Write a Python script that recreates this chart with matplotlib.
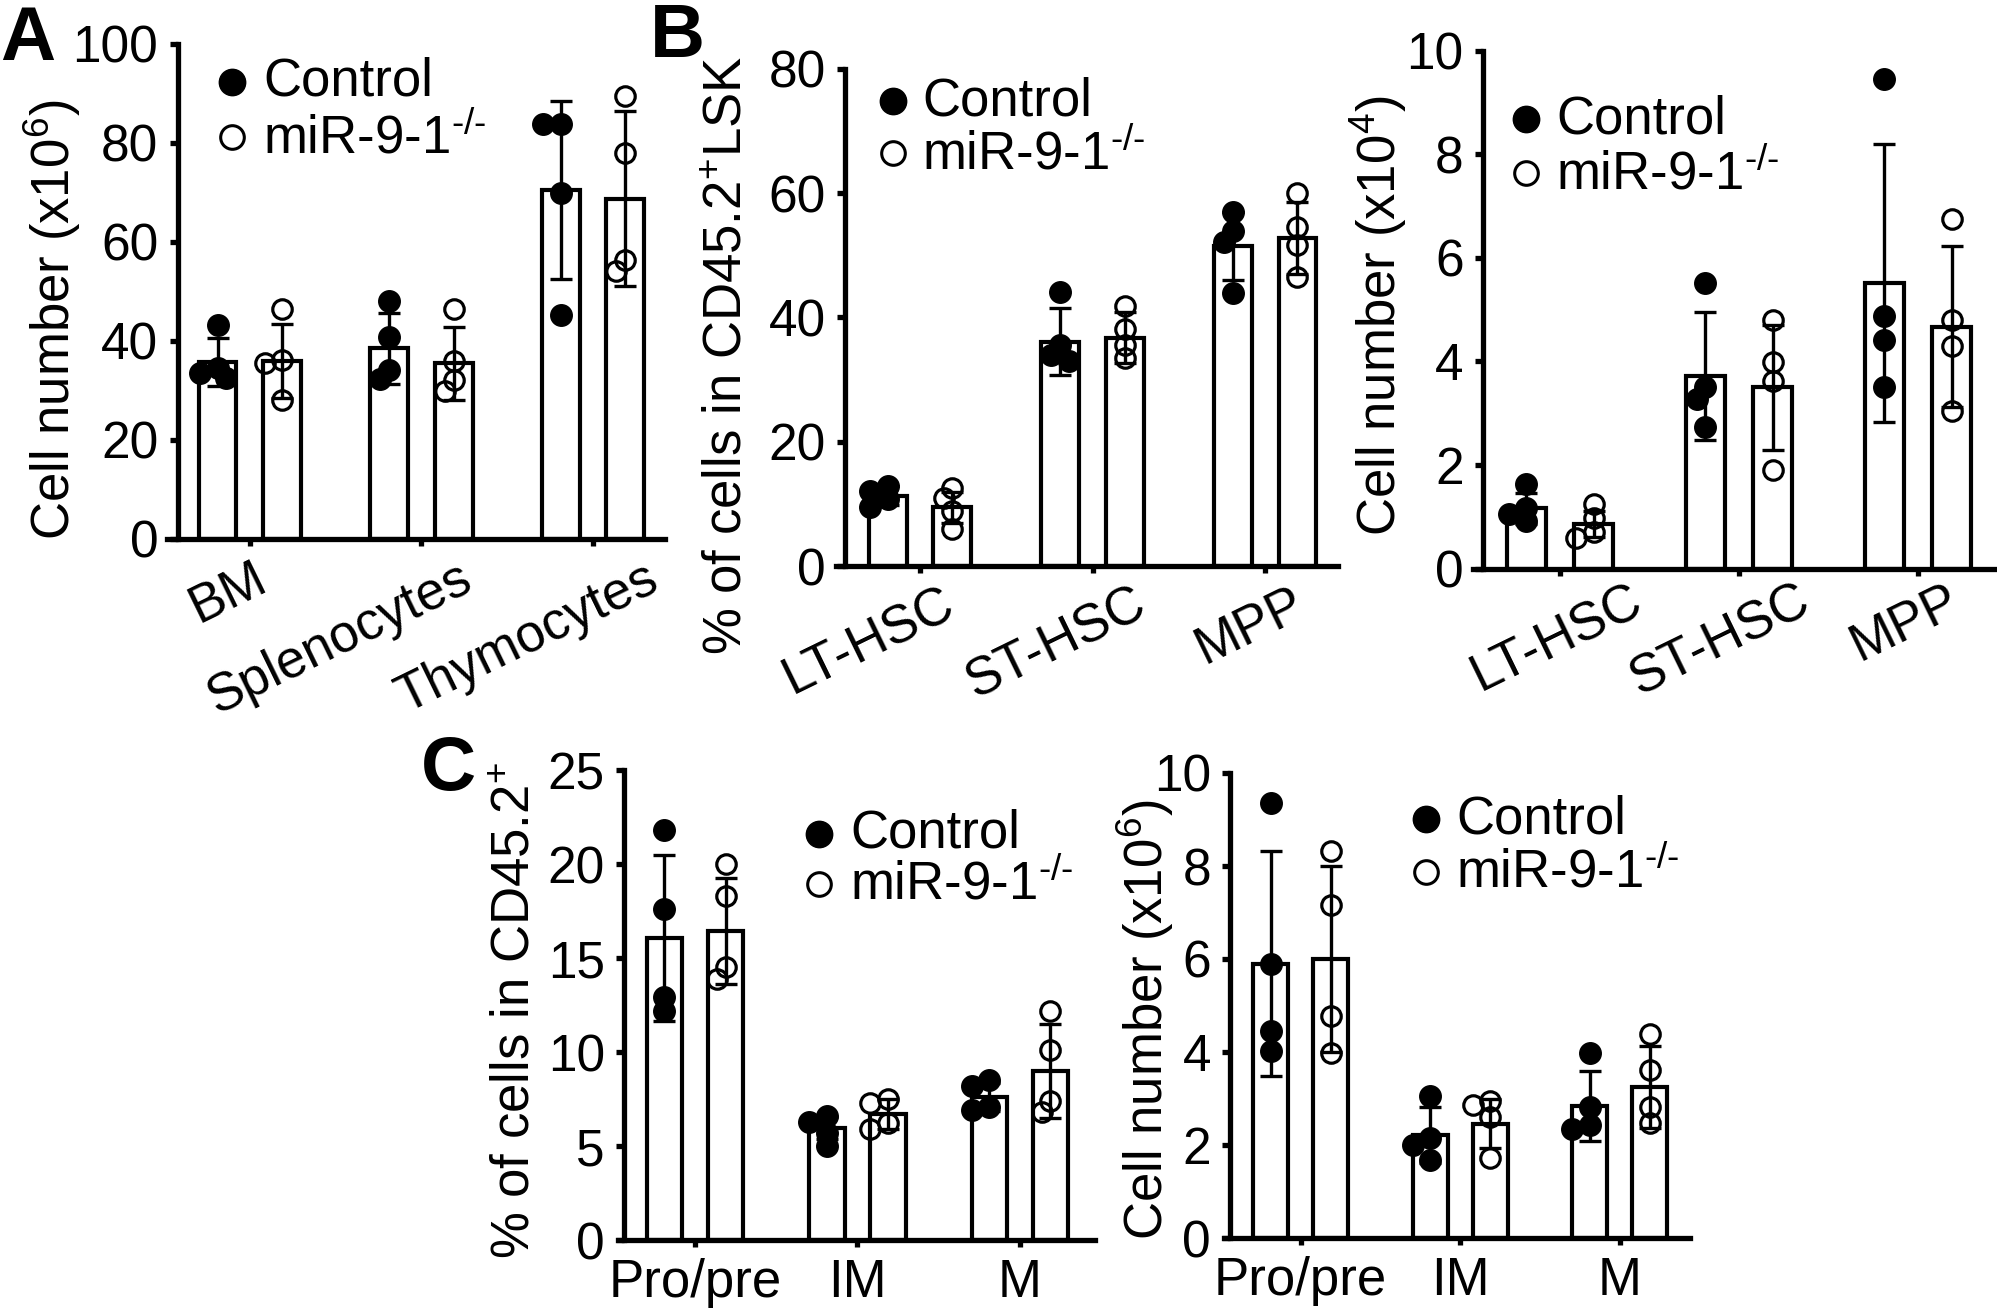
import numpy as np
import matplotlib
matplotlib.use("Agg")
import matplotlib.pyplot as plt
from matplotlib.lines import Line2D
from matplotlib.transforms import blended_transform_factory, offset_copy

plt.rcParams['font.family'] = ['Liberation Sans', 'DejaVu Sans']
plt.rcParams['mathtext.fontset'] = 'custom'
plt.rcParams['mathtext.rm'] = 'Liberation Sans'
plt.rcParams['mathtext.it'] = 'Liberation Sans:italic'
plt.rcParams['mathtext.bf'] = 'Liberation Sans:bold'

W, H = 1997, 1309

series = ['Control', r'miR-9-1$^{\text{-/-}}$']

# panel A - cell number (x10^6)
a_cats = ['BM', 'Splenocytes', 'Thymocytes']
a_ctrl_pts = [[43.2, 34.5, 33.5, 32.5], [48.0, 40.8, 34.1, 32.4], [83.8, 83.8, 69.8, 45.2]]
a_ko_pts = [[46.4, 36.2, 35.5, 28.0], [46.4, 35.9, 32.2, 29.9], [89.5, 77.9, 56.4, 54.2]]
a_ctrl_mean = [35.7, 38.5, 70.5]
a_ctrl_sd = [4.9, 7.2, 18.0]
a_ko_mean = [35.9, 35.5, 68.7]
a_ko_sd = [7.5, 7.4, 17.7]

# panel B left - % of LSK
b1_cats = ['LT-HSC', 'ST-HSC', 'MPP']
b1_ctrl_pts = [[12.8, 12.0, 10.8, 9.5], [44.0, 35.5, 34.0, 33.0], [56.9, 53.9, 52.1, 43.9]]
b1_ko_pts = [[12.6, 11.0, 8.8, 6.0], [41.8, 38.2, 35.5, 33.5], [60.0, 54.5, 51.7, 46.5]]
b1_ctrl_mean = [11.3, 36.1, 51.5]
b1_ctrl_sd = [1.5, 5.4, 5.5]
b1_ko_mean = [9.45, 36.7, 52.8]
b1_ko_sd = [2.5, 4.1, 5.8]

# panel B right - cell number (x10^4)
b2_cats = ['LT-HSC', 'ST-HSC', 'MPP']
b2_ctrl_pts = [[1.64, 1.17, 1.06, 0.93], [5.51, 3.5, 3.27, 2.74], [9.45, 4.87, 4.42, 3.5]]
b2_ko_pts = [[1.24, 0.97, 0.71, 0.6], [4.8, 3.98, 3.63, 1.9], [6.75, 4.8, 4.29, 3.05]]
b2_ctrl_mean = [1.17, 3.72, 5.51]
b2_ctrl_sd = [0.3, 1.24, 2.68]
b2_ko_mean = [0.86, 3.5, 4.67]
b2_ko_sd = [0.25, 1.2, 1.55]

# panel C left - % of CD45.2+
c1_cats = ['Pro/pre', 'IM', 'M']
c1_ctrl_pts = [[21.8, 17.6, 12.9, 12.2], [6.6, 6.3, 5.7, 5.0], [8.5, 8.2, 7.1, 6.9]]
c1_ko_pts = [[20.0, 18.3, 14.5, 13.9], [7.5, 7.3, 6.2, 5.9], [12.2, 10.1, 7.4, 6.8]]
c1_ctrl_mean = [16.07, 5.95, 7.6]
c1_ctrl_sd = [4.4, 0.6, 0.75]
c1_ko_mean = [16.43, 6.71, 8.99]
c1_ko_sd = [2.8, 0.8, 2.5]

# panel C right - cell number (x10^6)
c2_cats = ['Pro/pre', 'IM', 'M']
c2_ctrl_pts = [[9.35, 5.9, 4.45, 4.03], [3.06, 2.14, 2.01, 1.68], [3.98, 2.81, 2.43, 2.35]]
c2_ko_pts = [[8.32, 7.17, 4.78, 3.98], [2.94, 2.85, 2.6, 1.72], [4.39, 3.61, 2.81, 2.47]]
c2_ctrl_mean = [5.9, 2.21, 2.84]
c2_ctrl_sd = [2.42, 0.6, 0.76]
c2_ko_mean = [6.0, 2.46, 3.25]
c2_ko_sd = [2.0, 0.53, 0.88]

fig = plt.figure(figsize=(W / 100, H / 100), dpi=100)

SPW = 3.8     # spine width
BLW = 3.0     # bar edge
ELW = 2.4     # error bars
OFF = 0.188
BW = 0.22
DIAM = 22


def add_axes_px(left, right, top, bottom):
    return fig.add_axes([left / W, 1 - bottom / H, (right - left) / W, (bottom - top) / H])


def swarm_x(ax, xc, vals):
    # small beeswarm in pixel space so overlapping dots shift sideways a bit
    vals = np.asarray(vals, float)
    p = ax.transData.transform(np.column_stack([np.full(vals.size, xc), vals]))
    out = p[:, 0].copy()
    placed = []
    for i in np.argsort(-vals):
        for k in (0, -1, 1, -2, 2, -3, 3):
            x = p[i, 0] + k * 0.4 * DIAM
            if all(np.hypot(x - qx, p[i, 1] - qy) >= 0.55 * DIAM for qx, qy in placed):
                break
        out[i] = x
        placed.append((x, p[i, 1]))
    return ax.transData.inverted().transform(np.column_stack([out, p[:, 1]]))[:, 0]


def panel(box, cats, cpts, kpts, cm, csd, km, ksd, ymax, ystep, xl, xr, yx):
    ax = add_axes_px(*box)
    ax.set_xlim(xl, xr)
    ax.set_ylim(0, ymax)
    x = np.arange(len(cats))
    ax.bar(x - OFF, cm, BW, facecolor='white', edgecolor='black', linewidth=BLW, zorder=2)
    ax.bar(x + OFF, km, BW, facecolor='white', edgecolor='black', linewidth=BLW, zorder=2)
    ax.errorbar(x - OFF, cm, yerr=csd, fmt='none', ecolor='black', elinewidth=ELW,
                capsize=8, capthick=ELW, zorder=3)
    ax.errorbar(x + OFF, km, yerr=ksd, fmt='none', ecolor='black', elinewidth=ELW,
                capsize=8, capthick=ELW, zorder=3)
    for i in range(len(cats)):
        xs = swarm_x(ax, i - OFF, cpts[i])
        ax.plot(xs, cpts[i], 'o', ms=15.5, mfc='black', mec='black', mew=1, clip_on=False, zorder=4)
        xs = swarm_x(ax, i + OFF, kpts[i])
        ax.plot(xs, kpts[i], 'o', ms=14, mfc='none', mec='black', mew=2.3, clip_on=False, zorder=4)
    for s in ['top', 'right']:
        ax.spines[s].set_visible(False)
    for s in ['left', 'bottom']:
        ax.spines[s].set_linewidth(SPW)
    ax.spines['left'].set_position(('data', yx))
    ax.set_yticks(np.arange(0, ymax + ystep / 2, ystep))
    ax.tick_params(axis='y', length=6, width=SPW, labelsize=37, pad=8)
    ax.tick_params(axis='x', length=5, width=SPW, labelsize=38, pad=8)
    ax.set_xticks(x)
    return ax


def rotated_labels(ax, cats, dxs, gap):
    trans = blended_transform_factory(ax.transData, ax.transAxes)
    ax.set_xticklabels([])
    for i, (c, dx) in enumerate(zip(cats, dxs)):
        ax.text(i, 0, c, transform=offset_copy(trans, fig=fig, x=dx, y=-gap, units='dots'),
                rotation=26, rotation_mode='anchor', ha='right', va='top', fontsize=38)


def legend_px(xm, y1, y2, xt):
    for y, mfc, ms, mew in [(y1, 'black', 19, 1), (y2, 'none', 17, 2.2)]:
        fig.add_artist(Line2D([xm / W], [1 - y / H], marker='o', ms=ms, mfc=mfc, mec='black',
                              mew=mew, linestyle='none', transform=fig.transFigure))
    fig.text(xt / W, 1 - (y1 + 14) / H, series[0], fontsize=38, va='baseline', ha='left')
    fig.text(xt / W, 1 - (y2 + 16) / H, series[1], fontsize=38, va='baseline', ha='left')


# panel A
ax = panel((167, 665, 43.7, 539), a_cats, a_ctrl_pts, a_ko_pts, a_ctrl_mean, a_ctrl_sd,
           a_ko_mean, a_ko_sd, 100, 20, -0.483, 2.42, -0.42)
rotated_labels(ax, a_cats, [3, 36, 52], 14)
legend_px(232, 82, 137, 263)
fig.text(52 / W, 1 - 320 / H, r'Cell number (x10$^{6}$)', rotation=90, ha='center', va='center', fontsize=38)

# panel B left
ax = panel((836, 1337.5, 68.7, 566), b1_cats, b1_ctrl_pts, b1_ko_pts, b1_ctrl_mean, b1_ctrl_sd,
           b1_ko_mean, b1_ko_sd, 80, 20, -0.487, 2.42, -0.435)
rotated_labels(ax, b1_cats, [20, 40, 25], 13)
legend_px(893, 101, 153, 922)
fig.text(728 / W, 1 - 355 / H, r'% of cells in CD45.2$^{+}$LSK', rotation=90, ha='center', va='center', fontsize=38)

# panel B right
ax = panel((1473, 1995, 50.5, 568.7), b2_cats, b2_ctrl_pts, b2_ko_pts, b2_ctrl_mean, b2_ctrl_sd,
           b2_ko_mean, b2_ko_sd, 10, 2, -0.486, 2.43, -0.43)
rotated_labels(ax, b2_cats, [68, 57, 27], 7)
legend_px(1526, 119, 173, 1556)
fig.text(1379 / W, 1 - 316 / H, r'Cell number (x10$^{4}$)', rotation=90, ha='center', va='center', fontsize=38)

# panel C left
ax = panel((618, 1095, 770, 1240), c1_cats, c1_ctrl_pts, c1_ko_pts, c1_ctrl_mean, c1_ctrl_sd,
           c1_ko_mean, c1_ko_sd, 25, 5, -0.474, 2.462, -0.435)
ax.set_xticklabels(c1_cats)
legend_px(819, 834, 884, 850)
fig.text(516 / W, 1 - 1010 / H, r'% of cells in CD45.2$^{+}$', rotation=90, ha='center', va='center', fontsize=38)

# panel C right
ax = panel((1224, 1690, 773, 1238), c2_cats, c2_ctrl_pts, c2_ko_pts, c2_ctrl_mean, c2_ctrl_sd,
           c2_ko_mean, c2_ko_sd, 10, 2, -0.48, 2.44, -0.44)
ax.set_xticklabels(c2_cats)
legend_px(1426, 819, 872, 1456)
fig.text(1145 / W, 1 - 1020 / H, r'Cell number (x10$^{6}$)', rotation=90, ha='center', va='center', fontsize=38)

# panel letters
fig.text(0, 1 - 5 / H, 'A', fontsize=55, fontweight='bold', va='top', ha='left')
fig.text(650 / W, 1 - 2 / H, 'B', fontsize=55, fontweight='bold', va='top', ha='left')
fig.text(421 / W, 1 - 735 / H, 'C', fontsize=55, fontweight='bold', va='top', ha='left')

fig.savefig('out.png', dpi=100)
